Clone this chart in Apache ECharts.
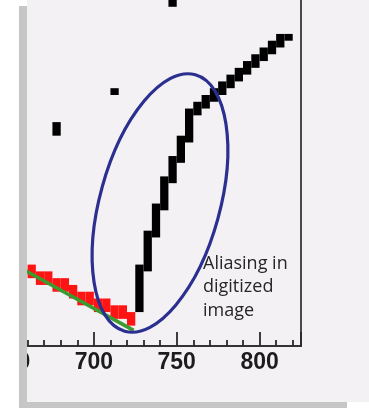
<!DOCTYPE html>
<html>
<head>
<meta charset="utf-8">
<style>
  html, body { margin: 0; padding: 0; background: #ffffff; }
  #chart { width: 369px; height: 408px; }
</style>
<script src="https://cdn.jsdelivr.net/npm/echarts@6.0.0/dist/echarts.min.js"></script>
</head>
<body>
<div id="chart"></div>
<script>
// Wavelength bins are 5 nm wide; rows are pixel rows of the digitized image.
const BIN_NM = 5;

// Reference trace (red pixels): lowest and highest lit row in each bin
const redBins  = [660, 665, 670, 675, 680, 685, 690, 695, 700, 705, 710, 715, 720];
const redRowLo = [10,  9,   9,   8,   8,   7,   6,   6,   5,   5,   4,   4,   3];
const redRowHi = [11,  10,  10,  9,   9,   8,   7,   7,   6,   6,   5,   5,   4];

const traceBins  = [725, 730, 735, 740, 745, 750, 755, 760, 765, 770, 775, 780, 785, 790, 795, 800, 805, 810, 815];
const traceRowLo = [5,   11,  16,  20,  24,  27,  30,  34,  35,  36,  37,  38,  39,  40,  41,  42,  43,  44,  45];
const traceRowHi = [11,  16,  20,  24,  27,  30,  34,  35,  36,  37,  38,  39,  40,  41,  42,  43,  44,  45,  45];

// Isolated noise pixels
const strayBins  = [675, 710, 745];
const strayRowLo = [31,  37,  50];
const strayRowHi = [32,  37,  50];

// Straight-line fit through the red trace
const fitWavelengths = [655, 724];
const fitRows        = [11.6, 2.3];

const noteText = 'Aliasing in\ndigitized\nimage';

function cells(bins, lo, hi) {
  return bins.map((b, i) => [b, lo[i], hi[i]]);
}

function cellRenderer(color) {
  return function (params, api) {
    const x0 = api.value(0);
    const lo = api.value(1);
    const hi = api.value(2);
    const tl = api.coord([x0, hi + 1]);
    const br = api.coord([x0 + BIN_NM, lo]);
    return {
      type: 'rect',
      shape: { x: tl[0], y: tl[1], width: br[0] - tl[0], height: br[1] - tl[1] },
      style: { fill: color }
    };
  };
}

const chart = echarts.init(document.getElementById('chart'), null, { renderer: 'canvas' });

chart.setOption({
  backgroundColor: '#f4f1f5',
  animation: false,
  grid: { left: 11, right: 68, top: 0, bottom: 62, outerBoundsMode: 'none' },
  xAxis: {
    type: 'value',
    min: 650,
    max: 825,
    interval: 50,
    axisLine: { show: true, lineStyle: { color: '#333333', width: 2 } },
    axisTick: { show: true, inside: true, length: 14, lineStyle: { color: '#2a2a2a', width: 1.8 } },
    minorTick: { show: true, splitNumber: 5, length: 6, lineStyle: { color: '#2a2a2a', width: 1.8 } },
    axisLabel: {
      margin: 5,
      fontSize: 23,
      fontWeight: 'bold',
      color: '#1c1c1c',
      fontFamily: 'Liberation Sans',
      showMaxLabel: false
    },
    splitLine: { show: false }
  },
  yAxis: {
    type: 'value',
    position: 'right',
    min: 0,
    max: 51,
    axisLine: { show: true, lineStyle: { color: '#4a4a4a', width: 2 } },
    axisTick: { show: false },
    axisLabel: { show: false },
    splitLine: { show: false }
  },
  series: [
    {
      type: 'custom',
      name: 'reference',
      renderItem: cellRenderer('#ff1414'),
      encode: { x: 0, y: [1, 2] },
      data: cells(redBins, redRowLo, redRowHi),
      z: 2,
      silent: true
    },
    {
      type: 'line',
      name: 'fit',
      data: fitWavelengths.map((w, i) => [w, fitRows[i]]),
      symbol: 'none',
      lineStyle: { color: '#3a9b2e', width: 3.5 },
      z: 3,
      silent: true
    },
    {
      type: 'custom',
      name: 'digitized',
      renderItem: cellRenderer('#000000'),
      encode: { x: 0, y: [1, 2] },
      data: cells(traceBins, traceRowLo, traceRowHi).concat(cells(strayBins, strayRowLo, strayRowHi)),
      z: 4,
      silent: true
    }
  ],
  graphic: [
    // callout around the aliased segment
    {
      type: 'ellipse',
      x: 160, y: 203,
      rotation: -0.269,
      shape: { cx: 0, cy: 0, rx: 60, ry: 133 },
      style: { fill: null, stroke: '#2b2f8f', lineWidth: 3.2 },
      z: 50
    },
    {
      type: 'text',
      x: 203, y: 252,
      style: {
        text: noteText,
        fill: '#262626',
        font: '18px "Open Sans"',
        lineHeight: 23.5
      },
      z: 50
    },
    // frame around the figure
    { type: 'rect', shape: { x: 0, y: 0, width: 19, height: 408 }, style: { fill: '#ffffff' }, z: 100 },
    { type: 'rect', shape: { x: 19, y: 0, width: 8, height: 6 }, style: { fill: '#ffffff' }, z: 100 },
    { type: 'rect', shape: { x: 19, y: 6, width: 8, height: 402 }, style: { fill: '#c6c6c6' }, z: 100 },
    { type: 'rect', shape: { x: 19, y: 402, width: 328, height: 6 }, style: { fill: '#c6c6c6' }, z: 100 },
    { type: 'rect', shape: { x: 347, y: 402, width: 22, height: 6 }, style: { fill: '#ffffff' }, z: 100 }
  ]
});
</script>
</body>
</html>
